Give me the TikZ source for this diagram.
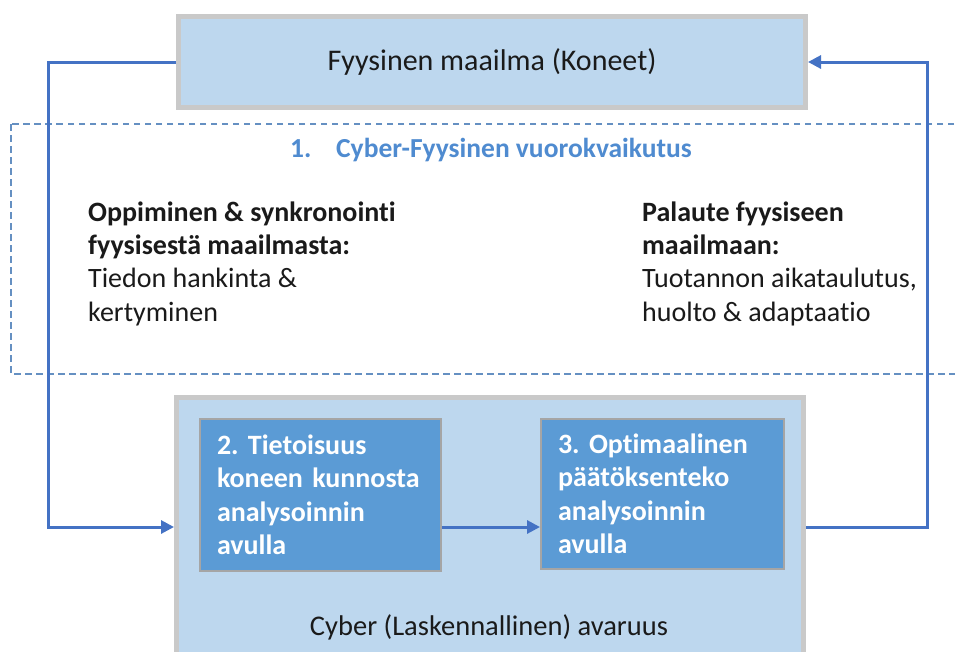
\documentclass[tikz,border=0pt]{standalone}
\usepackage{fontspec}
\setmainfont{Carlito}[Ligatures={NoCommon,NoContextual}]
\usetikzlibrary{arrows.meta}
\definecolor{lightfill}{HTML}{BDD7EE}
\definecolor{graybord}{HTML}{C9C9C9}
\definecolor{darkfill}{HTML}{5B9BD5}
\definecolor{innerbord}{HTML}{A5A5A5}
\definecolor{conncol}{HTML}{4472C4}
\definecolor{dashcol}{HTML}{6590C2}
\definecolor{titlecol}{HTML}{4F8BD0}
\definecolor{txtcol}{HTML}{1A1A1A}
\frenchspacing
\begin{document}
\begin{tikzpicture}[x=1pt,y=-1pt,
  font=\fontsize{28}{33.3}\selectfont,
  outerbox/.style={draw=graybord, line width=5pt, fill=lightfill, inner sep=0pt, minimum width=627pt},
  innerbox/.style={draw=innerbord, line width=2pt, fill=darkfill, text=white, font=\fontsize{28}{33.5}\selectfont\bfseries, align=left, inner xsep=17pt, inner ysep=0pt},
  conn/.style={draw=conncol, line width=3pt, -{Triangle[length=13pt,width=13pt]}},
  plain/.style={text=txtcol, align=left, inner sep=0pt, anchor=north west}
]
\useasboundingbox (0,0) rectangle (955,651);
\clip (0,0) rectangle (955,651);
\fill[white] (0,0) rectangle (955,651);
% dashed interaction region
\draw[dashcol, line width=1.5pt, dash pattern=on 6.5pt off 4.5pt] (11,124) rectangle (975,374);
% boxes
\node[outerbox, minimum height=91pt, text=txtcol, font=\fontsize{30}{36}\selectfont] (phys) at (492,62) {Fyysinen maailma (Koneet)};
\node[outerbox, minimum height=259pt] (cyber) at (490,527) {};
\node[innerbox, text width=207pt, minimum height=152pt] (aware) at (320.5,495) {2. Tietoisuus\\koneen kunnosta\\analysoinnin\\avulla};
\node[innerbox, text width=209pt, minimum height=150pt] (decide) at (662.5,494) {3. Optimaalinen\\päätöksenteko\\analysoinnin\\avulla};
\node[text=txtcol, font=\fontsize{28.5}{34}\selectfont] (cyberlabel) at (489,627) {Cyber (Laskennallinen) avaruus};
% texts
\node[text=titlecol, font=\fontsize{27.5}{33}\selectfont\bfseries, anchor=west, inner sep=0pt] (title) at (290,150) {\makebox[46pt][l]{1.}Cyber-Fyysinen vuorokvaikutus};
\node[plain] (learn) at (88,201.5) {\textbf{Oppiminen \& synkronointi}\\\textbf{fyysisestä maailmasta:}\\Tiedon hankinta \&\\kertyminen};
\node[plain] (feedback) at (642,201.5) {\textbf{Palaute fyysiseen}\\\textbf{maailmaan:}\\Tuotannon aikataulutus,\\huolto \& adaptaatio};
% connectors
\coordinate (lt) at (48,62);
\coordinate (rt) at (927,62);
\draw[conn] (phys.west) -- (lt) |- (cyber.west);
\draw[conn] (cyber.east) -| (rt) -- (phys.east);
\draw[conn] (aware.east |- cyber.west) -- (decide.west |- cyber.west);
\end{tikzpicture}
\end{document}
